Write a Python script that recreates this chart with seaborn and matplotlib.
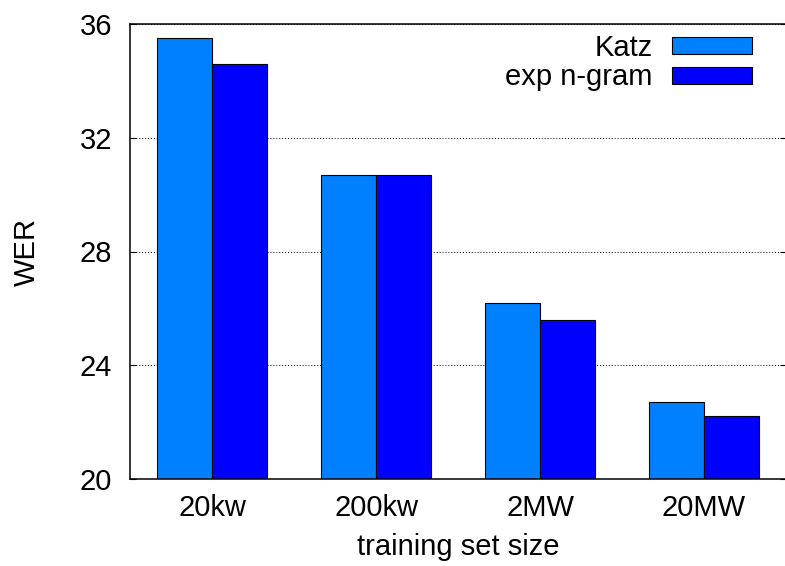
import matplotlib
matplotlib.use("Agg")
import matplotlib.pyplot as plt
import seaborn as sns
import pandas as pd

categories = ["20kw", "200kw", "2MW", "20MW"]
katz = [35.5, 30.7, 26.2, 22.7]
exp_ngram = [34.6, 30.7, 25.6, 22.2]
series_names = ["Katz", "exp n-gram"]
colors = ["#0080ff", "#0000ff"]
yticks = [20, 24, 28, 32, 36]

df = pd.DataFrame({
    "size": categories * 2,
    "WER": katz + exp_ngram,
    "model": [series_names[0]] * len(categories) + [series_names[1]] * len(categories),
})

sns.set_style("white")
plt.rcParams["font.family"] = ["Liberation Sans", "DejaVu Sans"]
plt.rcParams["text.color"] = "black"
plt.rcParams["axes.labelcolor"] = "black"
plt.rcParams["xtick.color"] = "black"
plt.rcParams["ytick.color"] = "black"

fig = plt.figure(figsize=(7.85, 5.66), dpi=100)
ax = fig.add_axes([130 / 785, 87 / 566, 656 / 785, 455 / 566])

sns.barplot(data=df, x="size", y="WER", hue="model", order=categories,
            hue_order=series_names, palette=colors, width=0.67,
            saturation=1, edgecolor="black", linewidth=0.8, ax=ax)

ax.set_xlim(-0.5, 3.5)
ax.set_ylim(20, 36)
ax.set_yticks(yticks)
ax.set_yticklabels([str(t) for t in yticks])
ax.set_axisbelow(True)
ax.yaxis.grid(True, color="black", linestyle=(0, (1, 2)), linewidth=0.7)
ax.xaxis.grid(False)

ax.tick_params(axis="y", direction="in", length=4.3, width=0.8, pad=13,
               labelsize=21, right=True, left=True, colors="black")
ax.tick_params(axis="x", length=0, pad=11, labelsize=21, colors="black")

for side in ["left", "top", "bottom"]:
    ax.spines[side].set_visible(True)
    ax.spines[side].set_color("black")
    ax.spines[side].set_linewidth(1.1)
ax.spines["right"].set_visible(False)

ax.set_xlabel("training set size", fontsize=21, labelpad=8, color="black")
ax.set_ylabel("WER", fontsize=21, labelpad=28, color="black")

handles, labels = ax.get_legend_handles_labels()
if ax.get_legend() is not None:
    ax.get_legend().remove()
leg = ax.legend(handles, labels, loc="upper right", bbox_to_anchor=(0.948, 0.978),
                frameon=False, markerfirst=False, fontsize=21, handlelength=2.75,
                handleheight=0.51, handletextpad=0.65, labelspacing=0.05,
                borderpad=0, borderaxespad=0)
for t in leg.get_texts():
    t.set_color("black")

fig.savefig("out.png", dpi=100)
